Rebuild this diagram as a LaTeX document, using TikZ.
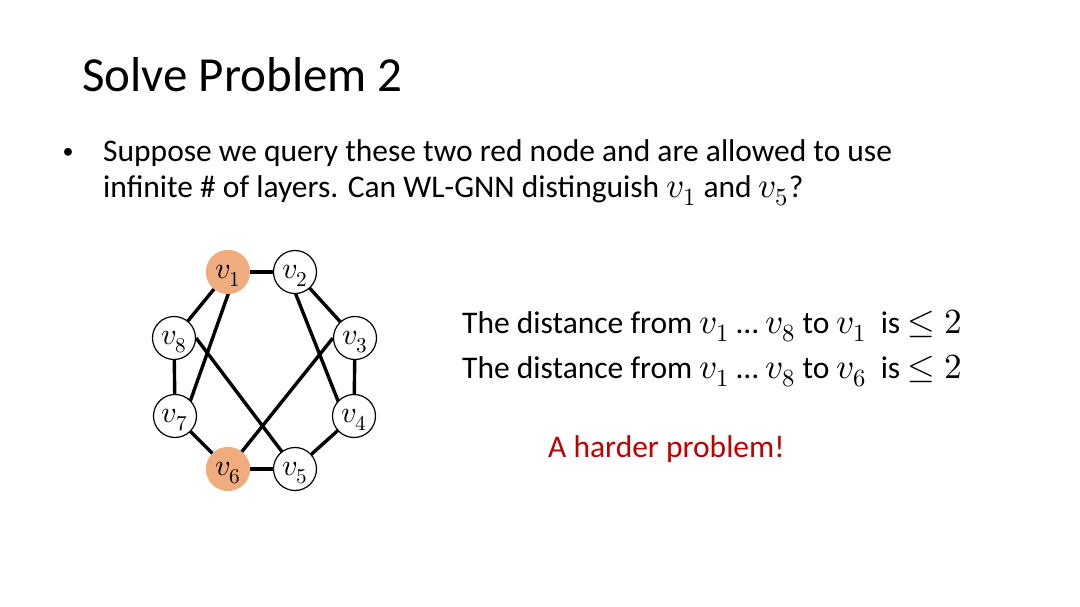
\documentclass[tikz,border=0pt]{standalone}
\usepackage{fontspec}
\usepackage{unicode-math}
\setmainfont{Carlito}
\setmathfont{Latin Modern Math}[Scale=1.12]
\definecolor{nodeorange}{RGB}{240,172,125}
\definecolor{darkred}{RGB}{192,0,0}
\pgfdeclarelayer{bg}
\pgfsetlayers{bg,main}
\begin{document}
\begin{tikzpicture}[x=1pt,y=-1pt,
  gnode/.style={circle,draw=black,line width=1.2pt,fill=white,minimum size=43pt,inner sep=0pt,text depth=0pt,font=\fontsize{27}{27}\selectfont},
  rednode/.style={gnode,draw=nodeorange,fill=nodeorange},
  edge/.style={line width=3.4pt},
  body/.style={anchor=base west,inner sep=0pt,font=\fontsize{31.5}{36}\selectfont}]
\begin{pgfonlayer}{bg}
\fill[white] (0,0) rectangle (1080,607);
\end{pgfonlayer}
\useasboundingbox (0,0) rectangle (1080,607);
\node[anchor=base west,inner sep=0pt,font=\fontsize{49}{56}\selectfont] (title) at (82,92) {Solve Problem 2};
\node[anchor=center,inner sep=0pt,font=\fontsize{22}{22}\selectfont] (bullet) at (68,153) {•};
\node[body] (l1) at (103,162) {Suppose we query these two red node and are allowed to use};
\node[body] (l2) at (103,197) {infinite \# of layers. Can WL-GNN distinguish $v_1$ and $v_5$?};
\node[body] (d1) at (462,333) {The distance from $v_1$ … $v_8$ to $v_1$ \ is $\leq 2$};
\node[body] (d2) at (462,378) {The distance from $v_1$ … $v_8$ to $v_6$ \ is $\leq 2$};
\node[body,text=darkred] (hard) at (548,457) {A harder problem!};
% graph nodes
\node[rednode] (v1) at (228,272) {$v_1$};
\node[gnode] (v2) at (295,272) {$v_2$};
\node[gnode] (v8) at (174,338) {$v_8$};
\node[gnode] (v3) at (355,338) {$v_3$};
\node[gnode] (v7) at (175,416) {$v_7$};
\node[gnode] (v4) at (354,416) {$v_4$};
\node[rednode] (v6) at (228,469) {$v_6$};
\node[gnode] (v5) at (295,469) {$v_5$};
\begin{pgfonlayer}{bg}
\draw[edge] (v1.center) -- (v2.center);
\draw[edge] (v1.center) -- (v8.center);
\draw[edge] ([xshift=8pt]v1.center) -- ([xshift=10pt]v7.center);
\draw[edge] (v2.center) -- (v3.center);
\draw[edge] ([xshift=-8pt]v2.center) -- ([xshift=-10pt]v4.center);
\draw[edge] (v3.center) -- (v4.center);
\draw[edge] (v3.west) -- (v6.center);
\draw[edge] (v8.center) -- (v7.center);
\draw[edge] (v8.east) -- (v5.center);
\draw[edge] (v7.center) -- (v6.center);
\draw[edge] (v6.center) -- (v5.center);
\draw[edge] (v5.center) -- (v4.center);
\end{pgfonlayer}
\end{tikzpicture}
\end{document}
